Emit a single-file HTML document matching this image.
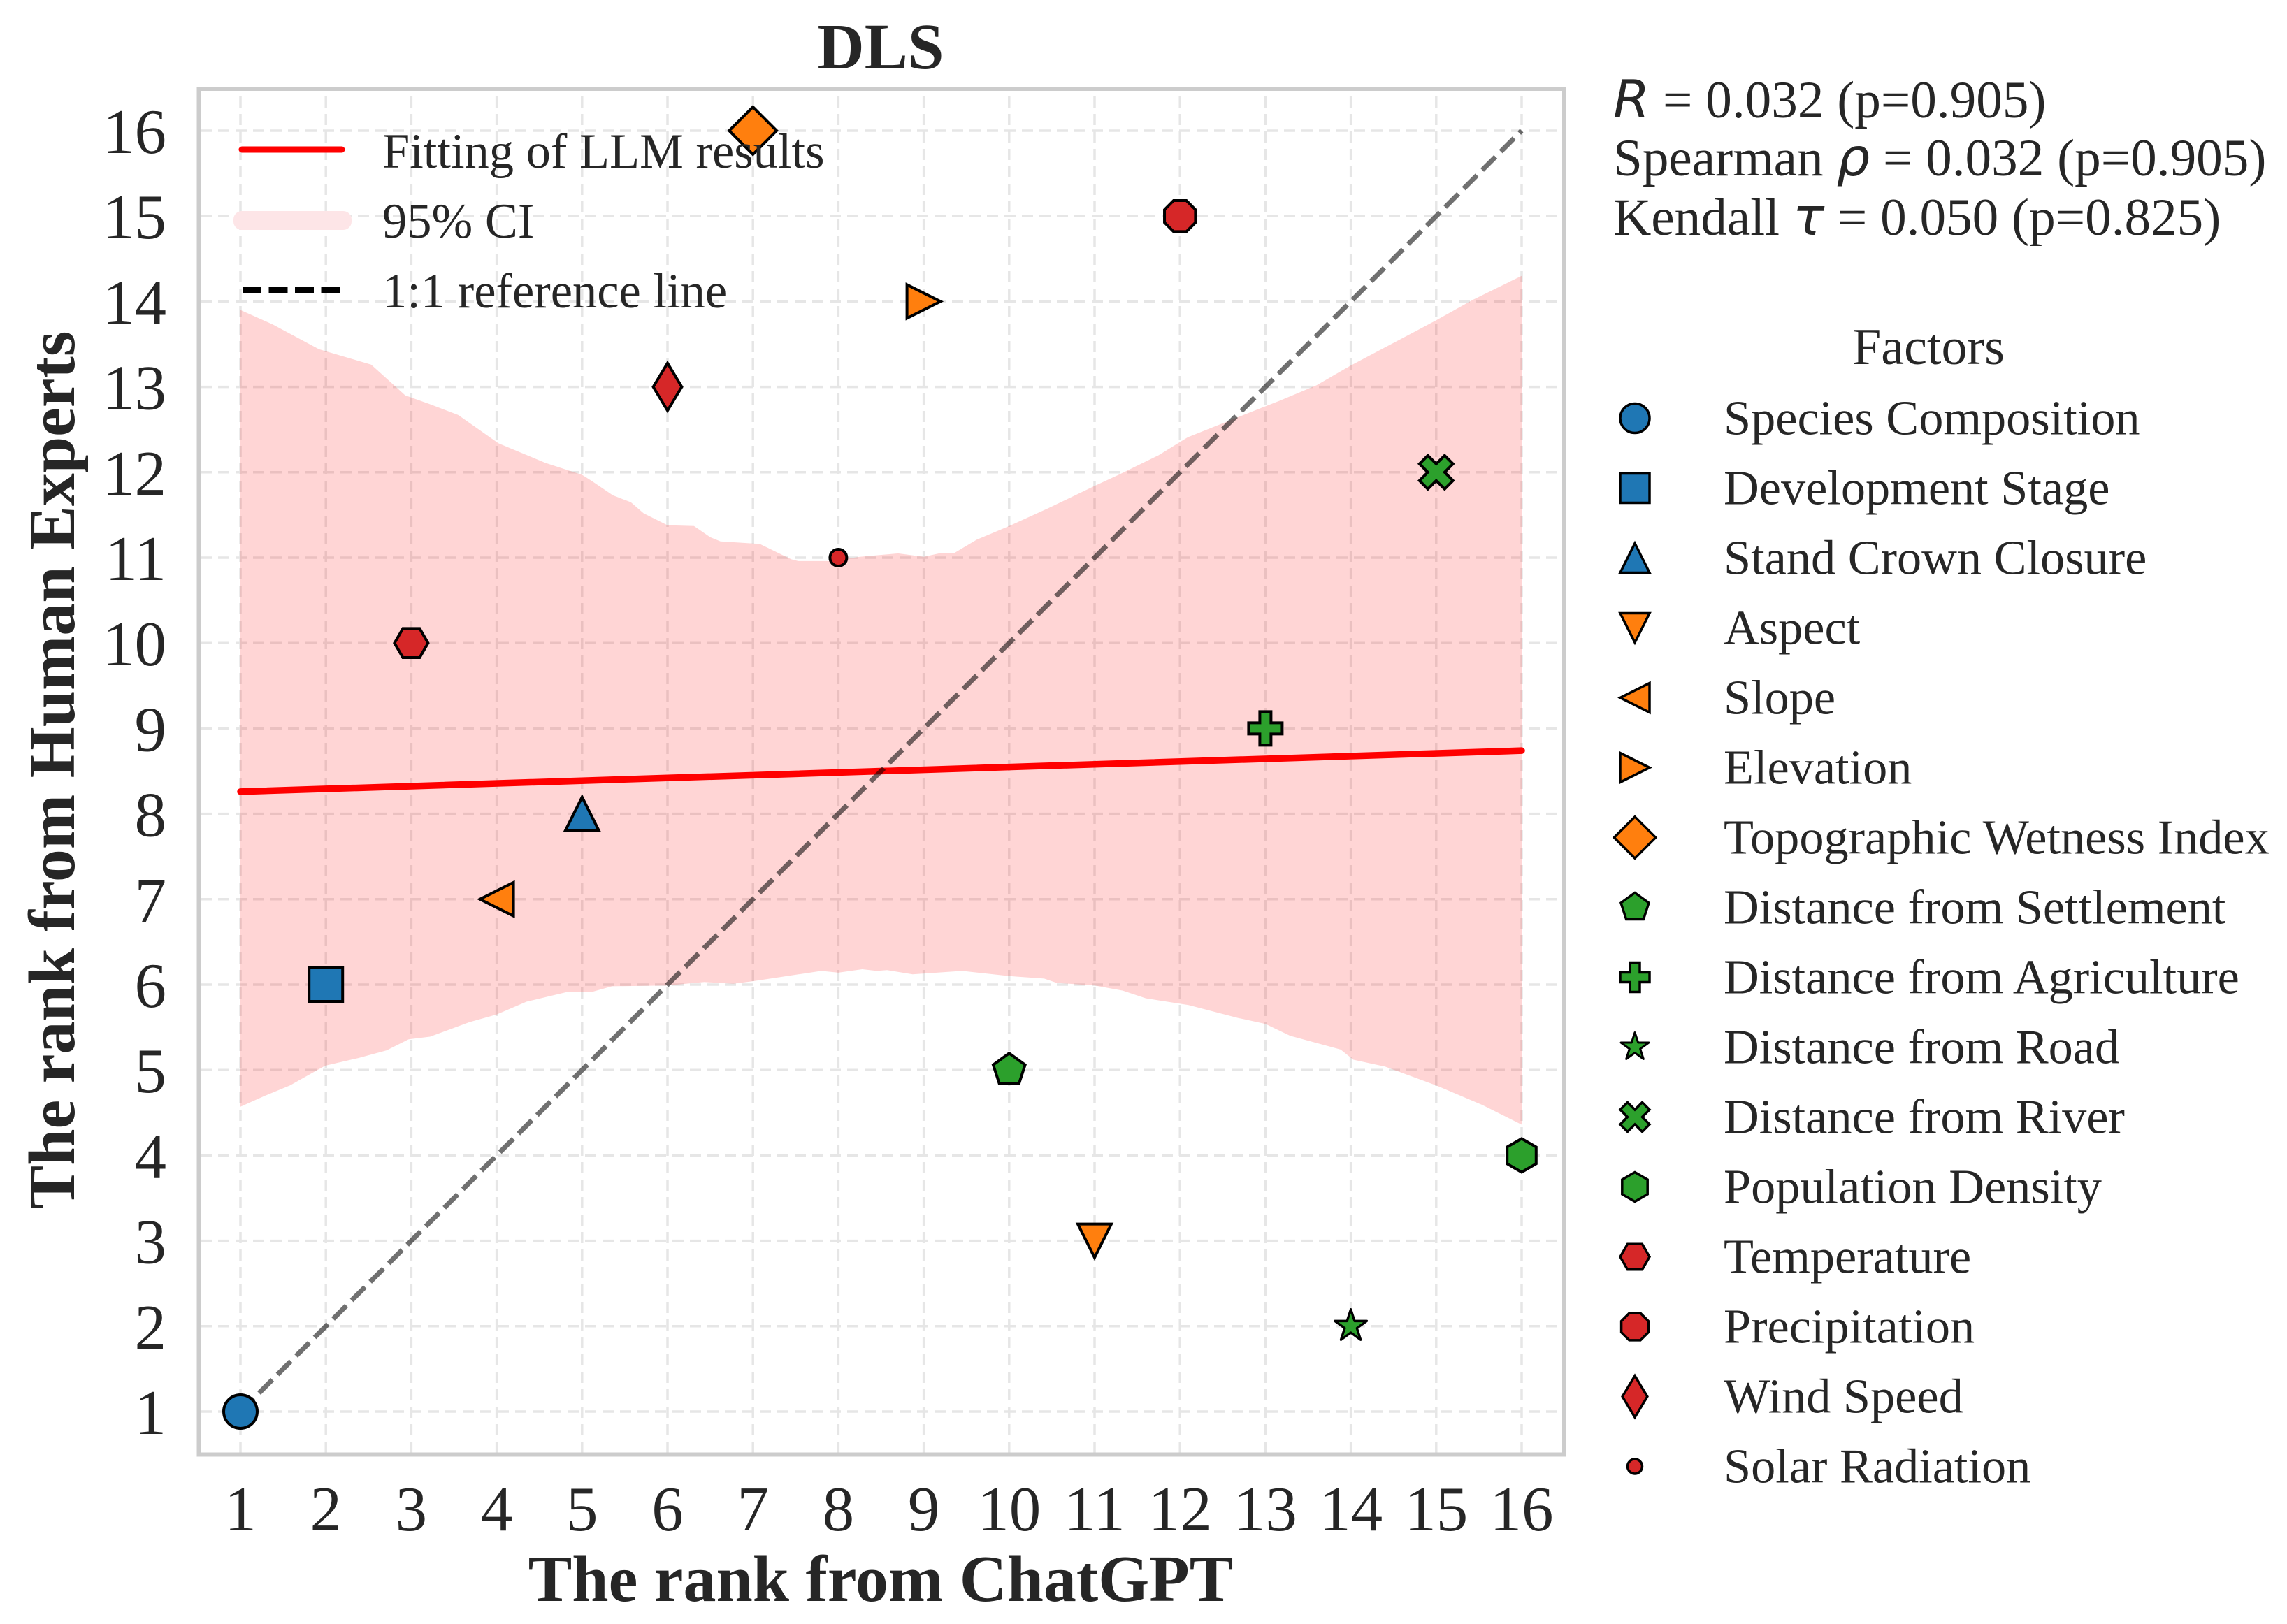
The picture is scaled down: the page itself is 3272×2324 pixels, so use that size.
<!DOCTYPE html>
<html lang="en">
<head>
<meta charset="utf-8">
<title>DLS rank comparison</title>
<style>
html,body{margin:0;padding:0;background:#fff;}
svg{display:block;}
text{font-family:"Liberation Serif","Times New Roman",serif;fill:#262626;}
.math{font-family:"DejaVu Sans",sans-serif;font-style:italic;}
</style>
</head>
<body>
<svg id="chart" xmlns="http://www.w3.org/2000/svg" width="3272" height="2324" viewBox="0 0 3272 2324">
  <g id="grid"></g>
  <g id="ci"></g>
  <g id="lines"></g>
  <g id="points"></g>
  <rect x="284.5" y="127" width="1953.5" height="1954.5" fill="none" stroke="#cccccc" stroke-width="6"/>
  <g id="xticks"></g>
  <g id="yticks"></g>

  <text x="1260" y="98" font-size="93" font-weight="700" text-anchor="middle">DLS</text>
  <text x="1260" y="2291" font-size="94" font-weight="700" text-anchor="middle">The rank from ChatGPT</text>
  <text transform="translate(106,1102) rotate(-90)" font-size="94" font-weight="700" text-anchor="middle">The rank from Human Experts</text>

  <g>
    <line x1="346" y1="214" x2="489" y2="214" stroke="#ff0000" stroke-width="9" stroke-linecap="round"/>
    <text x="547" y="240" font-size="70.5">Fitting of LLM results</text>
    <rect x="334" y="302" width="169" height="27" rx="12" fill="#fde5e7"/>
    <text x="547" y="340" font-size="70.5">95% CI</text>
    <line x1="347" y1="415" x2="487" y2="415" stroke="#000" stroke-width="8" stroke-dasharray="27 10.5"/>
    <text x="547" y="440" font-size="70.5">1:1 reference line</text>
  </g>

  <g font-size="75">
    <text x="2308" y="168" font-size="75.2"><tspan class="math">R</tspan> = 0.032 (p=0.905)</text>
    <text x="2308" y="251" font-size="75.2">Spearman <tspan class="math">ρ</tspan> = 0.032 (p=0.905)</text>
    <text x="2308" y="336" font-size="75.2">Kendall <tspan class="math">τ</tspan> = 0.050 (p=0.825)</text>
  </g>

  <text x="2759" y="521" font-size="74" text-anchor="middle">Factors</text>
  <g id="legend"></g>
</svg>
<script>
const factors = ["Species Composition","Development Stage","Stand Crown Closure","Aspect","Slope","Elevation","Topographic Wetness Index","Distance from Settlement","Distance from Agriculture","Distance from Road","Distance from River","Population Density","Temperature","Precipitation","Wind Speed","Solar Radiation"];
const chatgptRank = [1,2,5,11,4,9,7,10,13,14,15,16,3,12,6,8];
const humanRank = [1,6,8,3,7,14,16,5,9,2,12,4,10,15,13,11];
const markerShapes = ["o","s","^","v","<",">","D","p","P","*","X","h","H","8","d","."];
const markerColors = ["#1f77b4","#1f77b4","#1f77b4","#ff7f0e","#ff7f0e","#ff7f0e","#ff7f0e","#2ca02c","#2ca02c","#2ca02c","#2ca02c","#2ca02c","#d62728","#d62728","#d62728","#d62728"];
const xTicks = [1,2,3,4,5,6,7,8,9,10,11,12,13,14,15,16];
const yTicks = [1,2,3,4,5,6,7,8,9,10,11,12,13,14,15,16];
const fitX = [1,16];
const fitY = [8.26,8.74];
const refX = [1,16];
const refY = [1,16];
const ciUpperX = [1,1.38,1.92,2.53,2.93,3.21,3.55,4.02,4.57,5,5.11,5.36,5.57,5.72,6,6.31,6.5,6.62,7.08,7.45,7.53,7.91,8.25,8.7,9,9.18,9.35,9.62,10,10.46,11,11.28,11.75,12.09,12.54,12.97,13.17,13.6,14,15,15.43,16];
const ciUpper = [13.9,13.73,13.44,13.26,12.9,12.8,12.67,12.34,12.11,11.97,11.9,11.73,11.65,11.52,11.38,11.37,11.24,11.19,11.16,10.98,10.96,10.96,11.01,11.05,11.01,11.05,11.05,11.21,11.37,11.58,11.84,11.97,12.2,12.41,12.59,12.76,12.84,13.02,13.25,13.78,14.02,14.3];
const ciLowerX = [1,1.29,1.58,1.99,2.38,2.71,2.97,3.22,3.68,4,4.35,4.81,5.1,5.35,6,6.43,6.77,7,7.8,8,8.28,8.45,8.57,8.87,9.45,10,10.41,10.56,11,11.33,11.6,12.1,12.68,13,13.29,13.88,14.03,14.4,15,15.54,16];
const ciLower = [4.57,4.7,4.82,5.05,5.14,5.23,5.36,5.39,5.56,5.65,5.8,5.91,5.91,5.98,5.99,6.03,6.01,6.04,6.16,6.14,6.18,6.16,6.17,6.12,6.16,6.1,6.07,6.02,5.99,5.93,5.84,5.76,5.61,5.54,5.4,5.24,5.12,5.04,4.82,4.59,4.36];

const NS = "http://www.w3.org/2000/svg";
const xScale = v => 344 + (v - 1) * 122.2;
const yScale = v => 2020 - (v - 1) * 122.2;
const byId = id => document.getElementById(id);
const make = tag => document.createElementNS(NS, tag);

function polygon(n, r, rot) {
  const pts = [];
  for (let i = 0; i < n; i++) {
    const a = (rot + i * 360 / n - 90) * Math.PI / 180;
    pts.push([r * Math.cos(a), r * Math.sin(a)]);
  }
  return pts;
}
function unitShape(shape, S) {
  const h = S / 2;
  switch (shape) {
    case "s": return [[-h,-h],[h,-h],[h,h],[-h,h]];
    case "^": return [[0,-h],[h,h],[-h,h]];
    case "v": return [[0,h],[h,-h],[-h,-h]];
    case "<": return [[-h,0],[h,-h],[h,h]];
    case ">": return [[h,0],[-h,-h],[-h,h]];
    case "D": return [[0,-h*1.414],[h*1.414,0],[0,h*1.414],[-h*1.414,0]];
    case "d": return [[0,-h*1.414],[h*0.85,0],[0,h*1.414],[-h*0.85,0]];
    case "p": return polygon(5, h, 0);
    case "h": return polygon(6, h, 0);
    case "H": return polygon(6, h, 30);
    case "8": return polygon(8, h, 22.5);
    case "P": return [[1/3,0],[2/3,0],[2/3,1/3],[1,1/3],[1,2/3],[2/3,2/3],[2/3,1],[1/3,1],[1/3,2/3],[0,2/3],[0,1/3],[1/3,1/3]].map(p => [(p[0]-.5)*S,(p[1]-.5)*S]);
    case "X": return [[.25,0],[.5,.25],[.75,0],[1,.25],[.75,.5],[1,.75],[.75,1],[.5,.75],[.25,1],[0,.75],[.25,.5],[0,.25]].map(p => [(p[0]-.5)*S,(p[1]-.5)*S]);
    case "*": {
      const pts = [];
      for (let i = 0; i < 10; i++) {
        const r = i % 2 ? h * 0.381966 : h;
        const a = (i * 36 - 90) * Math.PI / 180;
        pts.push([r * Math.cos(a), r * Math.sin(a)]);
      }
      return pts;
    }
  }
  return null;
}
function drawMarker(shape, S, color, sw, cx, cy) {
  let el;
  if (shape === "o" || shape === ".") {
    el = make("circle");
    el.setAttribute("cx", cx);
    el.setAttribute("cy", cy);
    el.setAttribute("r", shape === "o" ? S / 2 : S / 4);
  } else {
    el = make("path");
    const d = unitShape(shape, S).map((p, i) => (i ? "L" : "M") + (cx + p[0]).toFixed(2) + " " + (cy + p[1]).toFixed(2)).join("") + "Z";
    el.setAttribute("d", d);
    el.setAttribute("stroke-linejoin", shape === "*" ? "round" : "miter");
  }
  el.setAttribute("fill", color);
  el.setAttribute("stroke", "#000");
  el.setAttribute("stroke-width", shape === "*" ? sw * 0.85 : sw);
  return el;
}
const slug = s => s.toLowerCase().replace(/[^a-z0-9]+/g, "-");

// grid
xTicks.forEach(t => {
  const l = make("line");
  
  
  l.setAttribute("x1", xScale(t)); l.setAttribute("x2", xScale(t));
  l.setAttribute("y1", 2079); l.setAttribute("y2", 130);
  l.setAttribute("stroke", "#e6e6e6"); l.setAttribute("stroke-width", 3.5);
  l.setAttribute("stroke-dasharray", "16 9");
  byId("grid").appendChild(l);
});
yTicks.forEach(t => {
  const l = make("line");
  
  
  l.setAttribute("x1", 287); l.setAttribute("x2", 2232);
  l.setAttribute("y1", yScale(t)); l.setAttribute("y2", yScale(t));
  l.setAttribute("stroke", "#e6e6e6"); l.setAttribute("stroke-width", 3.5);
  l.setAttribute("stroke-dasharray", "16 9");
  byId("grid").appendChild(l);
});

// CI band
const upperPts = ciUpperX.map((x, i) => xScale(x).toFixed(1) + "," + yScale(ciUpper[i]).toFixed(1));
const lowerPts = ciLowerX.map((x, i) => xScale(x).toFixed(1) + "," + yScale(ciLower[i]).toFixed(1)).reverse();
const band = make("polygon");


band.setAttribute("points", upperPts.concat(lowerPts).join(" "));
band.setAttribute("fill", "#ff0000");
band.setAttribute("fill-opacity", "0.165");
byId("ci").appendChild(band);

// fit line
const fit = make("line");


fit.setAttribute("x1", xScale(fitX[0])); fit.setAttribute("y1", yScale(fitY[0]));
fit.setAttribute("x2", xScale(fitX[1])); fit.setAttribute("y2", yScale(fitY[1]));
fit.setAttribute("stroke", "#ff0000"); fit.setAttribute("stroke-width", 9.5);
fit.setAttribute("stroke-linecap", "round");
byId("lines").appendChild(fit);

// reference line
const ref = make("line");


ref.setAttribute("x1", xScale(refX[0])); ref.setAttribute("y1", yScale(refY[0]));
ref.setAttribute("x2", xScale(refX[1])); ref.setAttribute("y2", yScale(refY[1]));
ref.setAttribute("stroke", "#000"); ref.setAttribute("stroke-opacity", "0.56");
ref.setAttribute("stroke-width", 7); ref.setAttribute("stroke-dasharray", "27 10.5");
byId("lines").appendChild(ref);

// scatter points
factors.forEach((f, i) => {
  const m = drawMarker(markerShapes[i], 48, markerColors[i], 4, xScale(chatgptRank[i]), yScale(humanRank[i]));
  
  
  byId("points").appendChild(m);
});

// tick labels
xTicks.forEach(t => {
  const el = make("text");
  
  
  el.setAttribute("x", xScale(t)); el.setAttribute("y", 2190);
  el.setAttribute("font-size", 91); el.setAttribute("text-anchor", "middle");
  el.textContent = t;
  byId("xticks").appendChild(el);
});
yTicks.forEach(t => {
  const el = make("text");
  
  
  el.setAttribute("x", 238); el.setAttribute("y", yScale(t) + 32);
  el.setAttribute("font-size", 91); el.setAttribute("text-anchor", "end");
  el.textContent = t;
  byId("yticks").appendChild(el);
});

// factors legend
factors.forEach((f, i) => {
  const base = 621.5 + i * 100;
  const m = drawMarker(markerShapes[i], 42, markerColors[i], 3.5, 2339, base - 23);
  
  
  byId("legend").appendChild(m);
  const t = make("text");
  
  
  t.setAttribute("x", 2466); t.setAttribute("y", base);
  t.setAttribute("font-size", 70.3);
  t.textContent = f;
  byId("legend").appendChild(t);
});
</script>
</body>
</html>
